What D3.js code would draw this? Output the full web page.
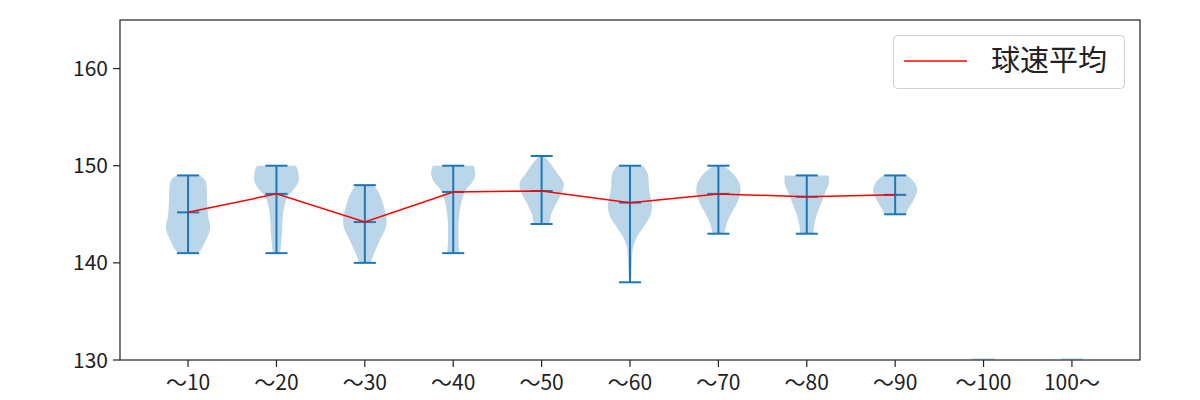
<!DOCTYPE html>
<html><head><meta charset="utf-8">
<script src="https://cdn.jsdelivr.net/npm/d3@7"></script>
<style>body{margin:0;background:#fff}svg{display:block}text{font-family:"Noto Sans CJK JP","Noto Sans",sans-serif}</style>
</head><body>
<svg id="c" width="1200" height="400"></svg>
<script>
const categories = ["〜10","〜20","〜30","〜40","〜50","〜60","〜70","〜80","〜90","〜100","100〜"];
const means = [145.2, 147.1, 144.2, 147.3, 147.4, 146.2, 147.1, 146.8, 147.0];
const mins  = [141, 141, 140, 141, 144, 138, 143, 143, 145];
const maxs  = [149, 150, 148, 150, 151, 150, 150, 149, 149];
// density profile of each violin: [value, relative half-width]
const profiles = [
  [[141,0.45],[141.3,0.57],[142.4,0.82],[143.6,1.0],[144.8,0.91],[146.5,0.86],[148.2,0.82],[148.7,0.7],[149,0.5]],
  [[141,0.15],[141.3,0.18],[143.1,0.25],[144.8,0.29],[145.8,0.36],[146.8,0.5],[147.5,0.77],[148.4,1.0],[149.6,0.96],[150,0.87]],
  [[140,0.25],[140.3,0.3],[141.3,0.48],[142.4,0.7],[143.4,0.91],[144.3,0.99],[145.8,0.86],[147.2,0.64],[148,0.42]],
  [[141,0.27],[141.3,0.26],[143.1,0.23],[145.1,0.28],[146.5,0.4],[147.5,0.57],[148.4,0.89],[149.2,1.0],[150,0.93]],
  [[144,0.35],[144.3,0.38],[145.1,0.45],[146.2,0.68],[147.2,0.91],[148.2,1.0],[149.2,0.71],[150.3,0.38],[151,0.11]],
  [[138,0.05],[138.6,0.06],[140.3,0.09],[141.7,0.15],[142.7,0.32],[143.8,0.64],[144.8,0.91],[145.8,1.0],[147.5,0.87],[149.2,0.8],[150,0.6]],
  [[143,0.26],[143.2,0.28],[144.3,0.42],[145.3,0.64],[146.3,0.87],[147.35,1.0],[148.2,0.95],[149.2,0.66],[150,0.23]],
  [[143,0.3],[143.8,0.33],[145,0.46],[146.2,0.66],[147.2,0.83],[148.2,1.0],[149,1.0]],
  [[145,0.46],[145.6,0.61],[146.5,0.84],[147.5,1.0],[148.4,0.84],[149,0.54]]
];
const emptyLevel = 130;
const yTicks = [130, 140, 150, 160];
const legendLabel = "球速平均";

const svg = d3.select("#c");
const L = 120, R = 1140, T = 20, B = 360;
const x = d3.scaleLinear().domain([0.23, 11.77]).range([L, R]);
const y = d3.scaleLinear().domain([130, 165]).range([B, T]);
const blue = "#1f77b4";
const halfW = 0.25, capW = 0.125;

const g = svg.append("g");
profiles.forEach((p, i) => {
  const c = i + 1;
  const area = d3.area()
    .y(d => y(d[0]))
    .x0(d => x(c - halfW * d[1]))
    .x1(d => x(c + halfW * d[1]))
    .curve(d3.curveCatmullRom);
  g.append("path").attr("d", area(p)).attr("fill", blue).attr("fill-opacity", 0.3).attr("stroke", "none");
});
[10, 11].forEach(c => {
  g.append("line").attr("x1", x(c - capW)).attr("x2", x(c + capW)).attr("y1", y(emptyLevel) - 1).attr("y2", y(emptyLevel) - 1)
   .attr("stroke", blue).attr("stroke-opacity", 0.3).attr("stroke-width", 1.5);
});
profiles.forEach((p, i) => {
  const c = i + 1;
  const ln = (x1, x2, y1, y2) => g.append("line").attr("x1", x1).attr("x2", x2).attr("y1", y1).attr("y2", y2)
    .attr("stroke", blue).attr("stroke-width", 2);
  ln(x(c), x(c), y(mins[i]), y(maxs[i]));
  ln(x(c - capW), x(c + capW), y(mins[i]), y(mins[i]));
  ln(x(c - capW), x(c + capW), y(maxs[i]), y(maxs[i]));
  ln(x(c - capW), x(c + capW), y(means[i]), y(means[i]));
});
g.append("path").datum(means)
  .attr("d", d3.line().x((d, i) => x(i + 1)).y(d => y(d)))
  .attr("fill", "none").attr("stroke", "red").attr("stroke-width", 1.5);

const ax = svg.append("g");
ax.append("rect").attr("x", L).attr("y", T).attr("width", R - L).attr("height", B - T)
  .attr("fill", "none").attr("stroke", "#222").attr("stroke-width", 1.2);
yTicks.forEach(t => {
  ax.append("line").attr("x1", L - 7).attr("x2", L).attr("y1", y(t)).attr("y2", y(t)).attr("stroke", "#222").attr("stroke-width", 1.2);
  ax.append("text").attr("x", L - 12).attr("y", y(t)).attr("dy", "0.36em").attr("text-anchor", "end")
    .attr("font-size", 21).attr("fill", "#222").text(t);
});
categories.forEach((cat, i) => {
  const c = i + 1;
  ax.append("line").attr("x1", x(c)).attr("x2", x(c)).attr("y1", B).attr("y2", B + 7).attr("stroke", "#222").attr("stroke-width", 1.2);
  ax.append("text").attr("x", x(c)).attr("y", B + 30).attr("text-anchor", "middle")
    .attr("font-size", 21).attr("fill", "#222").text(cat);
});

const lg = svg.append("g");
lg.append("rect").attr("x", 893.5).attr("y", 35.5).attr("width", 231).attr("height", 53).attr("rx", 4)
  .attr("fill", "#fff").attr("fill-opacity", 0.8).attr("stroke", "#d0d0d0").attr("stroke-width", 1);
lg.append("line").attr("x1", 904).attr("x2", 967).attr("y1", 61).attr("y2", 61).attr("stroke", "red").attr("stroke-width", 1.5);
lg.append("text").attr("x", 991).attr("y", 71).attr("font-size", 29).attr("fill", "#222").text(legendLabel);
</script>
</body></html>
